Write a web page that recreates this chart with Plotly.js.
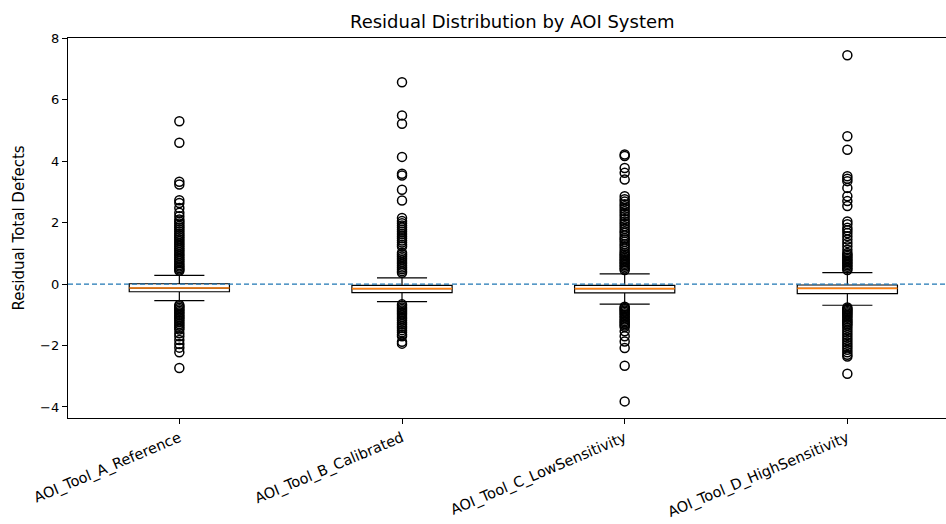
<!DOCTYPE html>
<html>
<head>
<meta charset="utf-8">
<script src="https://cdn.plot.ly/plotly-3.0.1.min.js"></script>
<style>html,body{margin:0;padding:0;background:#fff;}#chart{width:946px;height:524px;}</style>
</head>
<body>
<div id="chart"></div>
<script>
// ---- data ----
const categories = ["AOI_Tool_A_Reference", "AOI_Tool_B_Calibrated", "AOI_Tool_C_LowSensitivity", "AOI_Tool_D_HighSensitivity"];
const q1Values      = [-0.25, -0.28, -0.29, -0.31];
const medianValues  = [-0.13, -0.15, -0.15, -0.14];
const q3Values      = [0.01, -0.04, -0.04, -0.03];
const lowerWhisker  = [-0.54, -0.57, -0.65, -0.69];
const upperWhisker  = [0.28, 0.20, 0.33, 0.37];

const outliersA = [5.30, 4.60, 3.33, 3.24, 2.73, 2.64, 2.48, 2.32, 2.21, 2.10, 2.04, 1.97, 1.90, 1.84, 1.78, 1.71, 1.64, 1.58, 1.52, 1.46, 1.40, 1.34, 1.28, 1.22, 1.16, 1.10, 1.04, 0.98, 0.92, 0.86, 0.80, 0.74, 0.68, 0.62, 0.57, 0.52, 0.47, 0.43,
  -0.68, -0.72, -0.77, -0.82, -0.87, -0.92, -0.97, -1.02, -1.07, -1.12, -1.18, -1.24, -1.30, -1.36, -1.42, -1.48, -1.60, -1.70, -1.82, -1.95, -2.07, -2.22, -2.73];
const outliersB = [6.57, 5.49, 5.22, 4.14, 3.59, 3.53, 3.07, 2.72, 2.15, 2.05, 1.98, 1.91, 1.84, 1.77, 1.70, 1.63, 1.56, 1.49, 1.42, 1.35, 1.28, 1.22, 1.02, 0.96, 0.90, 0.84, 0.78, 0.72, 0.66, 0.60, 0.54, 0.48, 0.42, 0.37,
  -0.66, -0.71, -0.76, -0.81, -0.86, -0.91, -0.96, -1.01, -1.07, -1.13, -1.19, -1.25, -1.31, -1.37, -1.43, -1.50, -1.57, -1.64, -1.70, -1.88, -1.94];
const outliersC = [4.22, 4.17, 3.78, 3.62, 3.40, 2.86, 2.76, 2.69, 2.60, 2.53, 2.45, 2.37, 2.29, 2.21, 2.12, 2.04, 1.96, 1.88, 1.80, 1.72, 1.66, 1.58, 1.50, 1.45, 1.38, 1.30, 1.23, 1.16, 1.08, 1.01, 0.96, 0.91, 0.86, 0.81, 0.76, 0.71, 0.66, 0.61, 0.56, 0.51, 0.46,
  -0.74, -0.78, -0.82, -0.86, -0.90, -0.95, -1.00, -1.05, -1.10, -1.15, -1.20, -1.25, -1.30, -1.35, -1.40, -1.54, -1.70, -1.87, -2.08, -2.66, -3.82];
const outliersD = [7.45, 4.81, 4.37, 3.51, 3.43, 3.35, 3.13, 2.86, 2.70, 2.54, 2.04, 1.95, 1.83, 1.75, 1.66, 1.56, 1.45, 1.34, 1.23, 1.12, 1.01, 0.96, 0.91, 0.86, 0.81, 0.76, 0.71, 0.66, 0.61, 0.56, 0.51, 0.46,
  -0.76, -0.80, -0.84, -0.88, -0.92, -0.96, -1.00, -1.05, -1.10, -1.15, -1.20, -1.25, -1.30, -1.35, -1.42, -1.50, -1.58, -1.66, -1.74, -1.82, -1.90, -1.98, -2.06, -2.14, -2.22, -2.30, -2.36, -2.92];
const outlierGroups = [outliersA, outliersB, outliersC, outliersD];

const yTickValues = [-4, -2, 0, 2, 4, 6, 8];
const yTickLabels = ["\u22124", "\u22122", "0", "2", "4", "6", "8"];

// ---- build traces ----
const positions = categories.map((c, i) => i + 1);
const boxWidth = 0.45;
const FONT = "DejaVu Sans, Liberation Sans, sans-serif";

const traces = [];
positions.forEach((p, i) => {
  traces.push({
    type: "box",
    x: [p],
    q1: [q1Values[i]],
    median: [medianValues[i]],
    q3: [q3Values[i]],
    lowerfence: [lowerWhisker[i]],
    upperfence: [upperWhisker[i]],
    width: boxWidth,
    whiskerwidth: 0.5,
    fillcolor: "#ffffff",
    line: { color: "#000000", width: 1.2 },
    boxpoints: false,
    hoverinfo: "skip",
    showlegend: false
  });
});

// medians (orange)
const mx = [], my = [];
positions.forEach((p, i) => {
  mx.push(p - boxWidth / 2, p + boxWidth / 2, null);
  my.push(medianValues[i], medianValues[i], null);
});
traces.push({
  type: "scatter", mode: "lines", x: mx, y: my,
  line: { color: "#ff7f0e", width: 1.6 }, hoverinfo: "skip", showlegend: false
});

// outliers
const ox = [], oy = [];
outlierGroups.forEach((g, i) => {
  g.forEach(v => { ox.push(positions[i]); oy.push(v); });
});
traces.push({
  type: "scatter", mode: "markers", x: ox, y: oy,
  marker: { symbol: "circle-open", size: 9, color: "#000000", line: { color: "#000000", width: 1.5 } },
  hoverinfo: "skip", showlegend: false
});

const layout = {
  width: 946, height: 524,
  margin: { l: 68, r: 0, t: 38, b: 106 },
  paper_bgcolor: "#ffffff", plot_bgcolor: "#ffffff",
  font: { family: FONT, color: "#000000", size: 13 },
  title: {
    text: "Residual Distribution by AOI System",
    font: { family: FONT, size: 18, color: "#000000" },
    x: 0.506, xref: "paper", xanchor: "center",
    y: 1 - 22 / 524, yref: "container", yanchor: "middle"
  },
  xaxis: {
    range: [0.5, 4.443],
    tickmode: "array", tickvals: positions, ticktext: categories,
    tickangle: -23,
    ticks: "outside", ticklen: 5, tickwidth: 1, tickcolor: "#000000",
    showline: true, linecolor: "#000000", linewidth: 1.2, mirror: true,
    showgrid: false, zeroline: false,
    tickfont: { family: FONT, size: 14.5, color: "#000000" }
  },
  yaxis: {
    range: [-4.36, 8.01],
    tickmode: "array", tickvals: yTickValues, ticktext: yTickLabels,
    ticks: "outside", ticklen: 5, tickwidth: 1, tickcolor: "#000000",
    showline: true, linecolor: "#000000", linewidth: 1.2,
    showgrid: false, zeroline: false,
    tickfont: { family: FONT, size: 13, color: "#000000" },
    title: { text: "Residual Total Defects", font: { family: FONT, size: 15, color: "#000000" }, standoff: 11 }
  },
  shapes: [{
    type: "line", xref: "paper", x0: 0, x1: 1, yref: "y", y0: 0, y1: 0,
    line: { color: "#1f77b4", width: 1.2, dash: "5px,3px" }, layer: "above"
  }]
};

Plotly.newPlot("chart", traces, layout, { displayModeBar: false, staticPlot: true });
</script>
</body>
</html>
